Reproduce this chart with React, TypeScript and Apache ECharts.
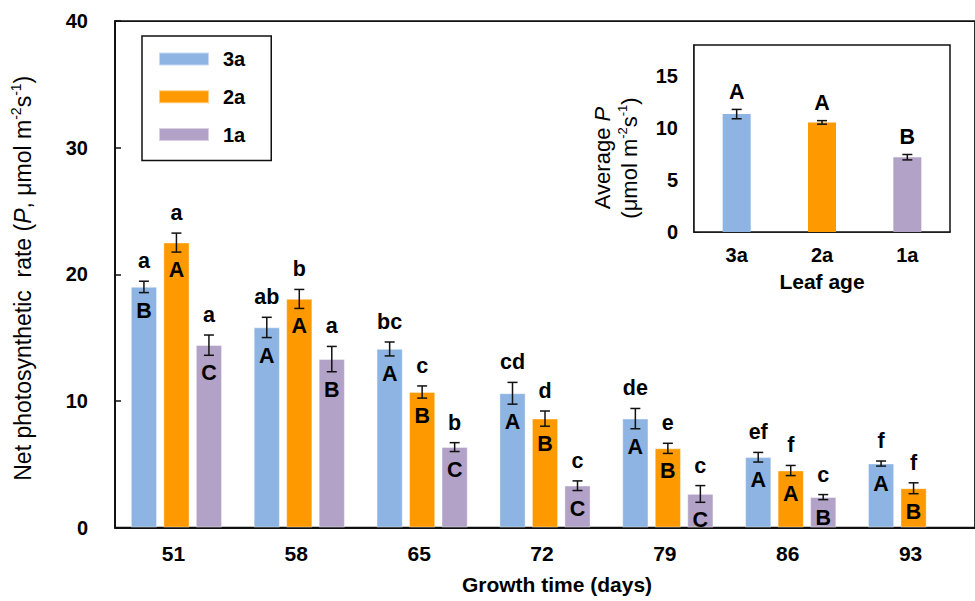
import React, { useEffect, useRef } from 'react';
import * as echarts from 'echarts';

// ---------- data ----------
const days = ['51', '58', '65', '72', '79', '86', '93'];
const seriesNames = ['3a', '2a', '1a'];

const mean3a = [19.0, 15.8, 14.1, 10.6, 8.6, 5.55, 5.05];
const err3a = [0.45, 0.8, 0.55, 0.86, 0.8, 0.38, 0.2];
const mean2a = [22.5, 18.05, 10.7, 8.6, 6.25, 4.5, 3.1];
const err2a = [0.75, 0.75, 0.48, 0.6, 0.4, 0.4, 0.43];
const mean1a: (number | null)[] = [14.4, 13.3, 6.35, 3.3, 2.65, 2.4, null];
const err1a: (number | null)[] = [0.8, 1.0, 0.35, 0.38, 0.66, 0.2, null];

const lower3a = ['a', 'ab', 'bc', 'cd', 'de', 'ef', 'f'];
const lower2a = ['a', 'b', 'c', 'd', 'e', 'f', 'f'];
const lower1a = ['a', 'a', 'b', 'c', 'c', 'c', ''];
const upper3a = ['B', 'A', 'A', 'A', 'A', 'A', 'A'];
const upper2a = ['A', 'A', 'B', 'B', 'B', 'A', 'B'];
const upper1a = ['C', 'B', 'C', 'C', 'C', 'B', ''];

const ageCats = ['3a', '2a', '1a'];
const avgMean = [11.35, 10.55, 7.2];
const avgErr = [0.45, 0.17, 0.26];
const avgLetters = ['A', 'A', 'B'];

const colors = ['#8DB4E2', '#FF9900', '#B3A2C7'];

// ---------- styles ----------
const FONT = '"Liberation Sans", Arial, sans-serif';
const BAR_W = 26;
const BAR_STEP = 32.5;
const LINE = '#111';
const LETTER_SIZE = 21.5;

function errData(means: (number | null)[], errs: (number | null)[]) {
  const out: number[][] = [];
  means.forEach((m, i) => {
    if (m != null && errs[i] != null) out.push([i, m, errs[i] as number]);
  });
  return out;
}

function makeRender(offset: number, lower: string[] | null, upper: string[] | null, lowerGap: number, upperGap: number) {
  return (params: any, api: any) => {
    const idx = api.value(0);
    const m = api.value(1);
    const e = api.value(2);
    const top = api.coord([idx, m + e]);
    const bot = api.coord([idx, m - e]);
    const x = top[0] + offset;
    const ls = { stroke: LINE, lineWidth: 1.5 };
    const children: any[] = [
      { type: 'line', shape: { x1: x, y1: top[1], x2: x, y2: bot[1] }, style: ls },
      { type: 'line', shape: { x1: x - 5, y1: top[1], x2: x + 5, y2: top[1] }, style: ls },
      { type: 'line', shape: { x1: x - 5, y1: bot[1], x2: x + 5, y2: bot[1] }, style: ls },
    ];
    if (lower && lower[idx]) {
      children.push({
        type: 'text', x, y: top[1] - lowerGap,
        style: { text: lower[idx], fill: '#000', fontSize: LETTER_SIZE, fontWeight: 'bold', fontFamily: FONT, align: 'center', verticalAlign: 'middle' },
      });
    }
    if (upper && upper[idx]) {
      children.push({
        type: 'text', x, y: bot[1] + upperGap,
        style: { text: upper[idx], fill: '#000', fontSize: LETTER_SIZE, fontWeight: 'bold', fontFamily: FONT, align: 'center', verticalAlign: 'middle' },
      });
    }
    return { type: 'group', children };
  };
}

export default function App() {
  const ref = useRef<HTMLDivElement>(null);

  useEffect(() => {
    if (!ref.current) return;
    const chart = echarts.init(ref.current, null, { renderer: 'svg' });

    const means = [mean3a, mean2a, mean1a];
    const errs = [err3a, err2a, err1a];
    const lowers = [lower3a, lower2a, lower1a];
    const uppers = [upper3a, upper2a, upper1a];

    const barSeries = seriesNames.map((name, k) => ({
      name,
      type: 'bar',
      xAxisIndex: 0,
      yAxisIndex: 0,
      data: means[k],
      barWidth: BAR_W,
      barGap: '25%',
      itemStyle: { color: colors[k], borderColor: 'rgba(255,255,255,0.5)', borderWidth: 0.8 },
      z: 2,
    }));

    const errSeries = seriesNames.map((name, k) => ({
      name: name + '-err',
      type: 'custom',
      xAxisIndex: 0,
      yAxisIndex: 0,
      data: errData(means[k], errs[k]),
      renderItem: makeRender((k - 1) * BAR_STEP, lowers[k], uppers[k], 20, 18),
      clip: false,
      z: 5,
    }));

    const option: any = {
      animation: false,
      backgroundColor: '#fff',
      textStyle: { fontFamily: FONT },
      grid: [
        { left: 115, top: 21, width: 868, height: 506.5, show: true, borderColor: LINE, borderWidth: 1.75, backgroundColor: 'transparent' },
        { left: 694, top: 45, width: 256, height: 187, show: true, borderColor: LINE, borderWidth: 1.5, backgroundColor: '#fff', z: 3 },
      ],
      legend: {
        data: seriesNames,
        orient: 'vertical',
        left: 142,
        top: 36,
        padding: [13, 26, 16, 16],
        itemWidth: 50,
        itemHeight: 13,
        itemGap: 17.8,
        borderColor: LINE,
        borderWidth: 1.5,
        selectedMode: false,
        icon: 'rect',
        textStyle: { fontSize: 20, fontWeight: 'bold', color: '#000', fontFamily: FONT, lineHeight: 20, padding: [0, 0, 0, 9] },
      },
      xAxis: [
        {
          type: 'category',
          gridIndex: 0,
          data: days,
          axisLine: { lineStyle: { color: LINE, width: 1.75 } },
          axisTick: { show: false },
          axisLabel: { fontSize: 21, fontWeight: 'bold', color: '#000', fontFamily: FONT, margin: 15, padding: [0, 6, 0, 0] },
          name: 'Growth time (days)',
          nameLocation: 'middle',
          nameGap: 46,
          nameTextStyle: { fontSize: 21, fontWeight: 'bold', color: '#000', fontFamily: FONT, padding: [0, 0, 0, 24] },
        },
        {
          type: 'category',
          gridIndex: 1,
          data: ageCats,
          axisLine: { lineStyle: { color: LINE, width: 1.5 } },
          axisTick: { show: false },
          axisLabel: { fontSize: 20, fontWeight: 'bold', color: '#000', fontFamily: FONT, margin: 13 },
          name: 'Leaf age',
          nameLocation: 'middle',
          nameGap: 39,
          nameTextStyle: { fontSize: 21, fontWeight: 'bold', color: '#000', fontFamily: FONT },
        },
      ],
      yAxis: [
        {
          type: 'value',
          gridIndex: 0,
          min: 0,
          max: 40,
          interval: 10,
          splitLine: { show: false },
          axisLine: { show: true, lineStyle: { color: LINE, width: 1.75 } },
          axisTick: { show: true, inside: true, length: 6, lineStyle: { color: LINE, width: 1.5 } },
          axisLabel: { fontSize: 20, fontWeight: 'bold', color: '#000', fontFamily: FONT, margin: 27 },
          name: 'Net photosynthetic  rate ({i|P}, μmol m{s|-2}s{s|-1})',
          nameLocation: 'middle',
          nameRotate: 90,
          nameGap: 79,
          nameTextStyle: {
            fontSize: 23, color: '#000', fontFamily: FONT, lineHeight: 27, padding: [0, 8, 0, 0],
            rich: {
              i: { fontSize: 23, fontStyle: 'italic', color: '#000', fontFamily: FONT, lineHeight: 27 },
              s: { fontSize: 14, color: '#000', fontFamily: FONT, verticalAlign: 'top', lineHeight: 14 },
            },
          },
        },
        {
          type: 'value',
          gridIndex: 1,
          min: 0,
          max: 18,
          interval: 5,
          splitLine: { show: false },
          axisLine: { show: true, lineStyle: { color: LINE, width: 1.5 } },
          axisTick: { show: true, inside: true, length: 6, lineStyle: { color: LINE, width: 1.5 } },
          axisLabel: { fontSize: 20, fontWeight: 'bold', color: '#000', fontFamily: FONT, margin: 16, showMaxLabel: false },
        },
      ],
      graphic: [
        {
          type: 'text',
          x: 616,
          y: 158,
          rotation: Math.PI / 2,
          z: 10,
          style: {
            text: 'Average {i|P}\n(μmol m{s|-2}s{s|-1})',
            fontSize: 22,
            fontFamily: FONT,
            fill: '#000',
            align: 'center',
            verticalAlign: 'middle',
            lineHeight: 27,
            rich: {
              i: { fontSize: 22, fontStyle: 'italic', fill: '#000', fontFamily: FONT, lineHeight: 27 },
              s: { fontSize: 13, fill: '#000', fontFamily: FONT, verticalAlign: 'top', lineHeight: 13 },
            },
          },
        },
      ],
      series: [
        ...barSeries,
        ...errSeries,
        {
          name: 'average',
          type: 'bar',
          xAxisIndex: 1,
          yAxisIndex: 1,
          barWidth: 28,
          data: avgMean.map((v, i) => ({ value: v, itemStyle: { color: colors[i] } })),
          z: 4,
        },
        {
          name: 'average-err',
          type: 'custom',
          xAxisIndex: 1,
          yAxisIndex: 1,
          data: avgMean.map((v, i) => [i, v, avgErr[i]]),
          renderItem: makeRender(0, avgLetters, null, 17.5, 0),
          clip: false,
          z: 6,
        },
      ],
    };

    chart.setOption(option);
    return () => chart.dispose();
  }, []);

  return (
    <div
      ref={ref}
      style={{ position: 'absolute', left: 0, top: 0, width: 975, height: 601, background: '#fff' }}
    />
  );
}
